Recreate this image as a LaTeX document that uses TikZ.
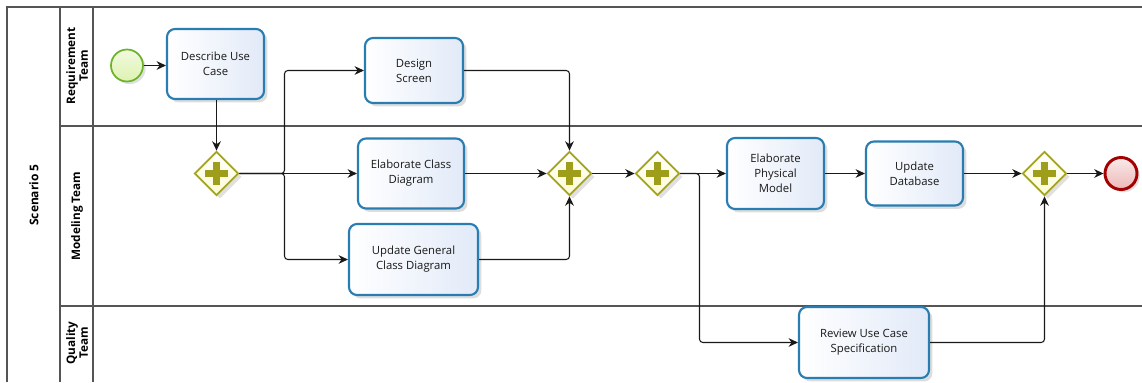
\documentclass[tikz,border=0pt]{standalone}
\usepackage{fontspec}
\setmainfont{Open Sans}
\usetikzlibrary{arrows.meta,shapes.geometric,shadows}
\definecolor{taskborder}{HTML}{2A7DB0}
\definecolor{taskfill}{HTML}{E2EAF8}
\definecolor{gwborder}{HTML}{A3A31F}
\definecolor{gwfill}{HTML}{FCFCD4}
\definecolor{gwplus}{HTML}{9E9E1A}
\definecolor{startborder}{HTML}{6CB22A}
\definecolor{startfill}{HTML}{DDF2B0}
\definecolor{endborder}{HTML}{A50000}
\definecolor{endfill}{HTML}{EDB8B8}
\definecolor{poolline}{HTML}{555555}
\def\upx{0.75pt}
\tikzset{
  task/.style={draw=taskborder, line width=1.6pt, rounded corners=6pt,
    left color=white, right color=taskfill, align=center, inner sep=2pt,
    font=\fontsize{8.5pt}{11.2pt}\selectfont, text=black!90,
    drop shadow={shadow xshift=2.5pt, shadow yshift=-2.5pt, opacity=0.22, fill=black!60}},
  gw/.style={diamond, draw=gwborder, line width=1.3pt, inner sep=0pt,
    minimum width=44*\upx, minimum height=44*\upx, top color=white, bottom color=gwfill,
    drop shadow={shadow xshift=2.5pt, shadow yshift=-2.5pt, opacity=0.2, fill=black!60}},
  plusbar/.style={draw=gwplus, line width=6.5*\upx},
  startev/.style={circle, draw=startborder, line width=1.3pt, minimum size=32*\upx,
    inner sep=0pt, top color=white!60!startfill, bottom color=startfill,
    drop shadow={shadow xshift=2pt, shadow yshift=-2pt, opacity=0.2, fill=black!60}},
  endev/.style={circle, draw=endborder, line width=2.2pt, minimum size=32*\upx,
    inner sep=0pt, top color=white!70!endfill, bottom color=endfill,
    drop shadow={shadow xshift=2pt, shadow yshift=-2pt, opacity=0.2, fill=black!60}},
  flow/.style={draw=black!90, line width=0.8pt, rounded corners=2.5pt,
    -{Stealth[length=7pt, width=6.5pt, inset=2.2pt]}},
  lane/.style={draw=poolline, line width=1.1pt},
  lanelabel/.style={rotate=90, align=center, font=\bfseries\fontsize{8.8pt}{9.6pt}\selectfont},
}
\begin{document}
\begin{tikzpicture}[x=0.75pt, y=-0.75pt]
\useasboundingbox (0,0) rectangle (1142,382);
% pool and lanes
\draw[lane] (1142,7) -- (7,7) -- (7,382);
\draw[lane] (60,7) -- (60,382);
\draw[lane] (93,7) -- (93,382);
\draw[lane] (60,126) -- (1142,126);
\draw[lane] (60,306) -- (1142,306);
\node[lanelabel, font=\bfseries\fontsize{9pt}{10pt}\selectfont] (pooltitle) at (34,195) {Scenario 5};
\node[lanelabel] (lreq) at (77,66) {Requirement\\Team};
\node[lanelabel] (lmod) at (77,216) {Modeling Team};
\node[lanelabel] (lqua) at (77,343) {Quality\\Team};
% events
\node[startev] (start) at (127,65.5) {};
\node[endev] (end) at (1121,173.5) {};
% tasks
\node[task, minimum width=97*\upx, minimum height=70*\upx] (desc) at (215.5,64) {Describe Use\\Case};
\node[task, minimum width=98*\upx, minimum height=65*\upx] (design) at (414,70.5) {Design\\Screen};
\node[task, minimum width=106*\upx, minimum height=70*\upx] (elabc) at (411,173.5) {Elaborate Class\\Diagram};
\node[task, minimum width=129*\upx, minimum height=71*\upx] (updgen) at (413.5,259.5) {Update General\\Class Diagram};
\node[task, minimum width=97*\upx, minimum height=71*\upx] (elabp) at (775.5,173.5) {Elaborate\\Physical\\Model};
\node[task, minimum width=97*\upx, minimum height=64*\upx] (upddb) at (914.5,173.5) {Update\\Database};
\node[task, minimum width=130*\upx, minimum height=71*\upx] (review) at (864,342.5) {Review Use Case\\Specification};
% gateways
\foreach \n/\x in {g1/216.5, g2/569.5, g3/657.5, g4/1044.5} {
  \node[gw] (\n) at (\x,173.5) {};
  \draw[plusbar] (\n.center) ++(-11.5,0) -- ++(23,0);
  \draw[plusbar] (\n.center) ++(0,-11.5) -- ++(0,23);
}
% flows
\draw[flow] (start) -- (desc.west |- start);
\draw[flow] (desc.south -| g1) -- (g1.north);
\draw[flow] (g1.east) -- (284.5,173.5) -- (284.5,70.5) -- (design.west);
\draw[flow] (g1.east) -- (elabc.west);
\draw[flow] (g1.east) -- (284.5,173.5) -- (284.5,259.5) -- (updgen.west);
\draw[flow] (design.east) -- (g2.north |- design.east) -- (g2.north);
\draw[flow] (elabc.east) -- (g2.west);
\draw[flow] (updgen.east) -- (g2.south |- updgen.east) -- (g2.south);
\draw[flow] (g2.east) -- (g3.west);
\draw[flow] (g3.east) -- (elabp.west);
\draw[flow] (g3.east) -- (699.5,173.5) -- (699.5,342.5) -- (review.west);
\draw[flow] (elabp.east) -- (upddb.west);
\draw[flow] (upddb.east) -- (g4.west);
\draw[flow] (review.east) -- (g4.south |- review.east) -- (g4.south);
\draw[flow] (g4.east) -- (end.west);
\end{tikzpicture}
\end{document}
